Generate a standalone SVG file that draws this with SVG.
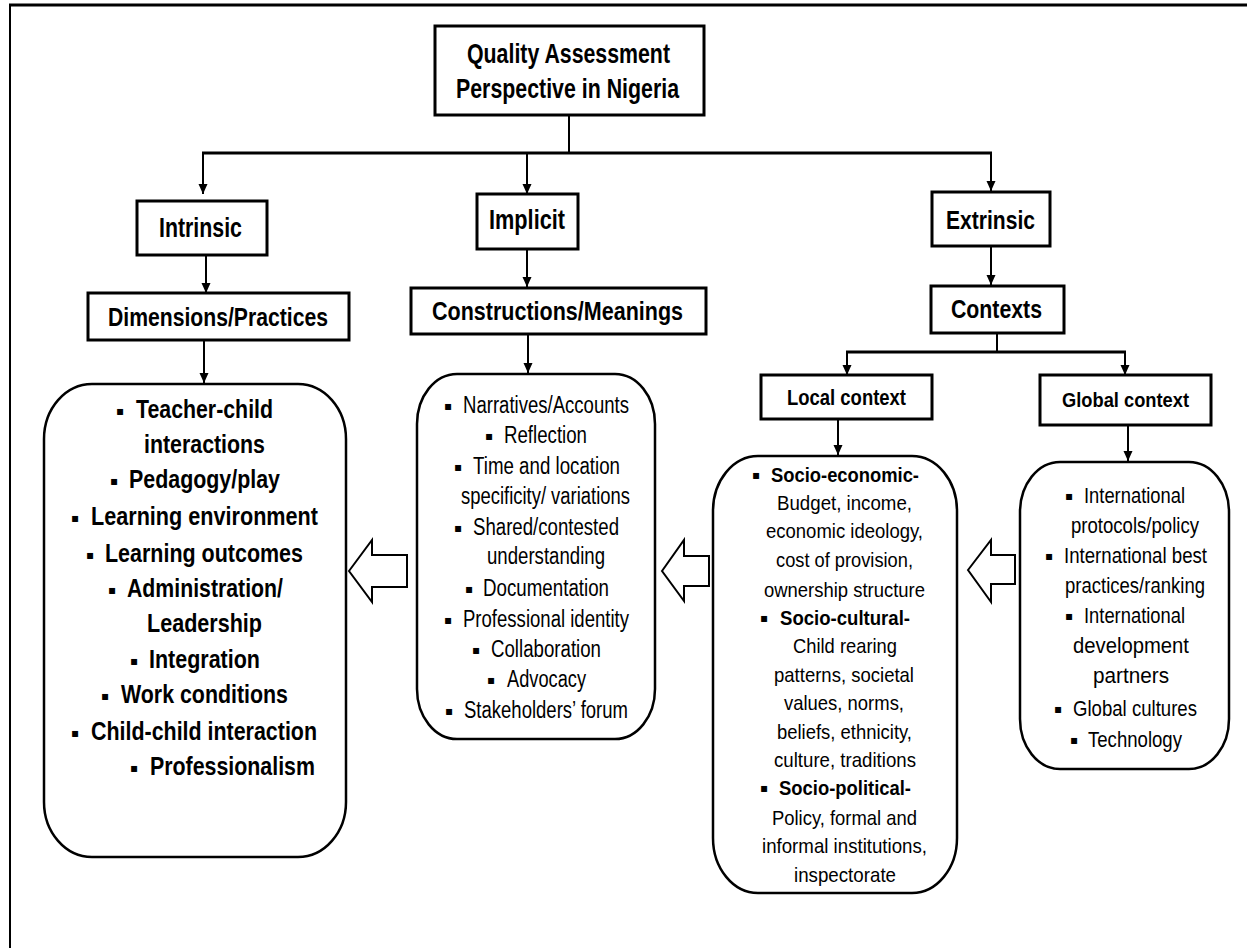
<svg xmlns="http://www.w3.org/2000/svg" width="1247" height="948" viewBox="0 0 1247 948">
<style>
text{font-family:"Liberation Sans",Arial,sans-serif;fill:#000}
.h{font-weight:bold;font-size:28px}
.hm{font-weight:bold;font-size:26px}
.hs{font-weight:bold;font-size:22px}
.lb{font-weight:bold;font-size:25px}
.r{font-size:23px}
.rg{font-size:22px}
.rl{font-size:21px}
.b{font-weight:bold}
.bu{font-family:"DejaVu Sans",sans-serif;font-size:12px}
.box{fill:#fff;stroke:#000;stroke-width:3}
.rbox{fill:#fff;stroke:#000;stroke-width:2.5}
.ln{fill:none;stroke:#000;stroke-width:2}
.bar{fill:none;stroke:#000;stroke-width:3}
.blk{fill:#fff;stroke:#000;stroke-width:2}
</style>
<defs>
<marker id="ah" markerWidth="10" markerHeight="10" viewBox="0 0 10 10" refX="10" refY="5" orient="auto" markerUnits="userSpaceOnUse">
<path d="M0,0.5 L10,5 L0,9.5 z" fill="#000"/>
</marker>
</defs>
<rect width="1247" height="948" fill="#fff"/>
<g id="frame">
<line x1="9" y1="5" x2="1247" y2="5" stroke="#000" stroke-width="3"/>
<line x1="10" y1="4" x2="10" y2="948" stroke="#000" stroke-width="2"/>
</g>
<g id="connectors">
<line class="ln" x1="569" y1="115" x2="569" y2="153"/>
<line class="bar" x1="202" y1="153" x2="992" y2="153"/>
<line class="ln" x1="203" y1="153" x2="203" y2="194" marker-end="url(#ah)"/>
<line class="ln" x1="527" y1="153" x2="527" y2="194" marker-end="url(#ah)"/>
<line class="ln" x1="991" y1="153" x2="991" y2="191" marker-end="url(#ah)"/>
<line class="ln" x1="206" y1="255" x2="206" y2="293" marker-end="url(#ah)"/>
<line class="ln" x1="527" y1="249" x2="527" y2="287" marker-end="url(#ah)"/>
<line class="ln" x1="528" y1="334" x2="528" y2="373" marker-end="url(#ah)"/>
<line class="ln" x1="204" y1="340" x2="204" y2="383" marker-end="url(#ah)"/>
<line class="ln" x1="991" y1="246" x2="991" y2="285" marker-end="url(#ah)"/>
<line class="ln" x1="997" y1="333" x2="997" y2="352"/>
<line class="bar" x1="846" y1="352" x2="1126" y2="352"/>
<line class="ln" x1="847" y1="352" x2="847" y2="375" marker-end="url(#ah)"/>
<line class="ln" x1="1125" y1="352" x2="1125" y2="375" marker-end="url(#ah)"/>
<line class="ln" x1="838" y1="419" x2="838" y2="455" marker-end="url(#ah)"/>
<line class="ln" x1="1128" y1="425" x2="1128" y2="461" marker-end="url(#ah)"/>
<polygon class="blk" points="349,571 372,540 372,555 407,555 407,587 372,587 372,602"/>
<polygon class="blk" points="662,571 684,540 684,556 709,556 709,586 684,586 684,601"/>
<polygon class="blk" points="968,570 991,540 991,555 1015,555 1015,584 991,584 991,602"/>
</g>
<g id="n-top">
<rect class="box" x="435" y="26" width="269" height="89"/>
<text class="h" x="467" y="63" textLength="203" lengthAdjust="spacingAndGlyphs">Quality Assessment</text>
<text class="h" x="456" y="98" textLength="223" lengthAdjust="spacingAndGlyphs">Perspective in Nigeria</text>
</g>
<g id="n-intrinsic">
<rect class="box" x="137" y="201" width="130" height="54"/>
<text class="h" x="159" y="237" textLength="83" lengthAdjust="spacingAndGlyphs">Intrinsic</text>
</g>
<g id="n-implicit">
<rect class="box" x="477" y="194" width="101" height="55"/>
<text class="h" x="489" y="229" textLength="76" lengthAdjust="spacingAndGlyphs">Implicit</text>
</g>
<g id="n-extrinsic">
<rect class="box" x="932" y="192" width="118" height="54"/>
<text class="hm" x="946" y="229" textLength="89" lengthAdjust="spacingAndGlyphs">Extrinsic</text>
</g>
<g id="n-dimensions">
<rect class="box" x="88" y="293" width="261" height="47"/>
<text class="hm" x="108" y="326" textLength="220" lengthAdjust="spacingAndGlyphs">Dimensions/Practices</text>
</g>
<g id="n-constructions">
<rect class="box" x="411" y="288" width="295" height="46"/>
<text class="hm" x="432" y="320" textLength="251" lengthAdjust="spacingAndGlyphs">Constructions/Meanings</text>
</g>
<g id="n-contexts">
<rect class="box" x="931" y="286" width="133" height="47"/>
<text class="hm" x="951" y="318" textLength="91" lengthAdjust="spacingAndGlyphs">Contexts</text>
</g>
<g id="n-local">
<rect class="box" x="761" y="375" width="171" height="44"/>
<text class="hs" x="787" y="405" textLength="119" lengthAdjust="spacingAndGlyphs">Local context</text>
</g>
<g id="n-global">
<rect class="box" x="1040" y="375" width="171" height="50"/>
<text class="hs" x="1062" y="407" textLength="127" lengthAdjust="spacingAndGlyphs" style="font-size:20px">Global context</text>
</g>
<g id="n-practices-list">
<rect class="rbox" x="44" y="384" width="302" height="473" rx="48" ry="55"/>
<text class="bu" x="116" y="415">▪</text>
<text class="lb" x="136" y="418" textLength="137" lengthAdjust="spacingAndGlyphs">Teacher-child</text>
<text class="lb" x="144" y="453" textLength="121" lengthAdjust="spacingAndGlyphs">interactions</text>
<text class="bu" x="110" y="485">▪</text>
<text class="lb" x="129" y="488" textLength="151" lengthAdjust="spacingAndGlyphs">Pedagogy/play</text>
<text class="bu" x="71" y="522">▪</text>
<text class="lb" x="91" y="525" textLength="227" lengthAdjust="spacingAndGlyphs">Learning environment</text>
<text class="bu" x="86" y="559">▪</text>
<text class="lb" x="105" y="562" textLength="198" lengthAdjust="spacingAndGlyphs">Learning outcomes</text>
<text class="bu" x="108" y="594">▪</text>
<text class="lb" x="127" y="597" textLength="156" lengthAdjust="spacingAndGlyphs">Administration/</text>
<text class="lb" x="147" y="632" textLength="115" lengthAdjust="spacingAndGlyphs">Leadership</text>
<text class="bu" x="130" y="665">▪</text>
<text class="lb" x="149" y="668" textLength="111" lengthAdjust="spacingAndGlyphs">Integration</text>
<text class="bu" x="101" y="700">▪</text>
<text class="lb" x="121" y="703" textLength="167" lengthAdjust="spacingAndGlyphs">Work conditions</text>
<text class="bu" x="71" y="737">▪</text>
<text class="lb" x="91" y="740" textLength="226" lengthAdjust="spacingAndGlyphs">Child-child interaction</text>
<text class="bu" x="130" y="772">▪</text>
<text class="lb" x="150" y="775" textLength="165" lengthAdjust="spacingAndGlyphs">Professionalism</text>
</g>
<g id="n-meanings-list">
<rect class="rbox" x="417" y="374" width="238" height="365" rx="40" ry="50"/>
<text class="bu" x="444" y="410">▪</text>
<text class="r" x="463" y="413" textLength="166" lengthAdjust="spacingAndGlyphs">Narratives/Accounts</text>
<text class="bu" x="485" y="440">▪</text>
<text class="r" x="504" y="443" textLength="83" lengthAdjust="spacingAndGlyphs">Reflection</text>
<text class="bu" x="454" y="471">▪</text>
<text class="r" x="473" y="474" textLength="147" lengthAdjust="spacingAndGlyphs">Time and location</text>
<text class="r" x="461" y="504" textLength="169" lengthAdjust="spacingAndGlyphs">specificity/ variations</text>
<text class="bu" x="454" y="532">▪</text>
<text class="r" x="473" y="535" textLength="146" lengthAdjust="spacingAndGlyphs">Shared/contested</text>
<text class="r" x="487" y="564" textLength="118" lengthAdjust="spacingAndGlyphs">understanding</text>
<text class="bu" x="465" y="593">▪</text>
<text class="r" x="483" y="596" textLength="126" lengthAdjust="spacingAndGlyphs">Documentation</text>
<text class="bu" x="444" y="624">▪</text>
<text class="r" x="463" y="627" textLength="166" lengthAdjust="spacingAndGlyphs">Professional identity</text>
<text class="bu" x="472" y="654">▪</text>
<text class="r" x="491" y="657" textLength="110" lengthAdjust="spacingAndGlyphs">Collaboration</text>
<text class="bu" x="487" y="684">▪</text>
<text class="r" x="507" y="687" textLength="79" lengthAdjust="spacingAndGlyphs">Advocacy</text>
<text class="bu" x="445" y="715">▪</text>
<text class="r" x="464" y="718" textLength="164" lengthAdjust="spacingAndGlyphs">Stakeholders’ forum</text>
</g>
<g id="n-local-list">
<rect class="rbox" x="713" y="456" width="244" height="437" rx="45" ry="55"/>
<text class="bu" x="752" y="479">▪</text>
<text class="rl b" x="771" y="482" textLength="148" lengthAdjust="spacingAndGlyphs">Socio-economic-</text>
<text class="rl" x="777" y="510" textLength="135" lengthAdjust="spacingAndGlyphs">Budget, income,</text>
<text class="rl" x="766" y="538" textLength="157" lengthAdjust="spacingAndGlyphs">economic ideology,</text>
<text class="rl" x="776" y="567" textLength="137" lengthAdjust="spacingAndGlyphs">cost of provision,</text>
<text class="rl" x="764" y="597" textLength="161" lengthAdjust="spacingAndGlyphs">ownership structure</text>
<text class="bu" x="760" y="622">▪</text>
<text class="rl b" x="780" y="625" textLength="130" lengthAdjust="spacingAndGlyphs">Socio-cultural-</text>
<text class="rl" x="793" y="653" textLength="104" lengthAdjust="spacingAndGlyphs">Child rearing</text>
<text class="rl" x="774" y="682" textLength="140" lengthAdjust="spacingAndGlyphs">patterns, societal</text>
<text class="rl" x="784" y="710" textLength="120" lengthAdjust="spacingAndGlyphs">values, norms,</text>
<text class="rl" x="777" y="739" textLength="135" lengthAdjust="spacingAndGlyphs">beliefs, ethnicity,</text>
<text class="rl" x="774" y="767" textLength="142" lengthAdjust="spacingAndGlyphs">culture, traditions</text>
<text class="bu" x="760" y="792">▪</text>
<text class="rl b" x="779" y="795" textLength="132" lengthAdjust="spacingAndGlyphs">Socio-political-</text>
<text class="rl" x="772" y="825" textLength="145" lengthAdjust="spacingAndGlyphs">Policy, formal and</text>
<text class="rl" x="762" y="853" textLength="165" lengthAdjust="spacingAndGlyphs">informal institutions,</text>
<text class="rl" x="794" y="882" textLength="102" lengthAdjust="spacingAndGlyphs">inspectorate</text>
</g>
<g id="n-global-list">
<rect class="rbox" x="1020" y="462" width="209" height="307" rx="40" ry="50"/>
<text class="bu" x="1065" y="500">▪</text>
<text class="rg" x="1084" y="503" textLength="101" lengthAdjust="spacingAndGlyphs">International</text>
<text class="rg" x="1071" y="533" textLength="128" lengthAdjust="spacingAndGlyphs">protocols/policy</text>
<text class="bu" x="1045" y="560">▪</text>
<text class="rg" x="1064" y="563" textLength="143" lengthAdjust="spacingAndGlyphs">International best</text>
<text class="rg" x="1065" y="593" textLength="140" lengthAdjust="spacingAndGlyphs">practices/ranking</text>
<text class="bu" x="1065" y="620">▪</text>
<text class="rg" x="1084" y="623" textLength="101" lengthAdjust="spacingAndGlyphs">International</text>
<text class="rg" x="1073" y="653" textLength="116" lengthAdjust="spacingAndGlyphs">development</text>
<text class="rg" x="1093" y="683" textLength="76" lengthAdjust="spacingAndGlyphs">partners</text>
<text class="bu" x="1054" y="713">▪</text>
<text class="rg" x="1073" y="716" textLength="124" lengthAdjust="spacingAndGlyphs">Global cultures</text>
<text class="bu" x="1070" y="744">▪</text>
<text class="rg" x="1088" y="747" textLength="94" lengthAdjust="spacingAndGlyphs">Technology</text>
</g>
</svg>
